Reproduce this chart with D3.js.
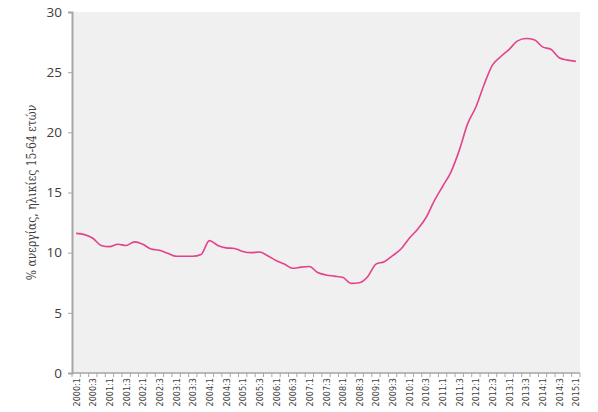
<!DOCTYPE html>
<html>
<head>
<meta charset="utf-8">
<script src="https://cdn.jsdelivr.net/npm/d3@7"></script>
<style>
  body { margin: 0; background: #fff; }
  .ytick text { font-family: "Open Sans", "DejaVu Sans", sans-serif; font-size: 13.5px; fill: #404040; }
  .xtick text { font-family: "DejaVu Sans Condensed", "DejaVu Sans", sans-serif; font-size: 9px; fill: #404040; }
  .ytitle { font-family: "DejaVu Serif Condensed", "DejaVu Serif", serif; font-size: 12px; fill: #404040; }
</style>
</head>
<body>
<svg id="chart" width="598" height="412"></svg>
<script>

// quarters 2000:1 .. 2015:1
const years = d3.range(2000, 2016)
const quarters = []
years.forEach(y => { [1, 2, 3, 4].forEach(q => { if (y < 2015 || q == 1) quarters.push(y + ':' + q) }) })

// unemployment rate, ages 15-64
const unemployment = [
	11.6, 11.5, 11.2, 10.6, 10.5, 10.7, 10.6, 10.9, 10.7, 10.3,
	10.2, 9.95, 9.7, 9.7, 9.7, 9.85, 11.0, 10.6, 10.4, 10.35,
	10.1, 10.0, 10.05, 9.75, 9.35, 9.05, 8.7, 8.8, 8.85, 8.35,
	8.15, 8.05, 7.95, 7.45, 7.5, 8.0, 9.05, 9.25, 9.75, 10.3,
	11.2, 11.95, 12.9, 14.3, 15.5, 16.7, 18.5, 20.7, 22.1, 24.0,
	25.6, 26.3, 26.9, 27.6, 27.8, 27.7, 27.1, 26.9, 26.2, 26.0,
	25.9
]

const yTicks = [0, 5, 10, 15, 20, 25, 30]
const yTitle = '% ανεργίας, ηλικίες 15-64 ετών'

const svg = d3.select('#chart')
const plotLeft = 72, plotRight = 580, plotTop = 12, plotBottom = 373

const x = d3.scaleBand().domain(quarters).range([plotLeft, plotRight])
const y = d3.scaleLinear().domain([0, 30]).range([plotBottom, plotTop])

// plot background
svg.append('rect')
	.attr('x', plotLeft).attr('y', plotTop)
	.attr('width', plotRight - plotLeft).attr('height', plotBottom - plotTop)
	.attr('fill', '#f0f0f0')

// y axis
let yAxis = svg.append('g')
	.attr('class', 'ytick')
	.attr('transform', `translate(${plotLeft},0)`)
	.call(d3.axisLeft(y).tickValues(yTicks).tickSize(4).tickPadding(6).tickFormat(d3.format('d')))
yAxis.select('.domain').attr('stroke', '#a6a6a6').attr('stroke-width', 2)
yAxis.selectAll('.tick line').attr('stroke', '#a6a6a6')

// x axis: ticks on every category boundary, labels every second quarter
let xAxis = svg.append('g')
	.attr('class', 'xtick')
	.attr('transform', `translate(0,${plotBottom})`)

xAxis.append('line')
	.attr('x1', plotLeft).attr('x2', plotRight)
	.attr('stroke', '#a6a6a6').attr('stroke-width', 1.5)

xAxis.selectAll('line.tk')
	.data(quarters.concat(['end']))
	.enter()
	.append('line')
	.attr('class', 'tk')
	.attr('x1', (d, i) => plotLeft + i * x.step())
	.attr('x2', (d, i) => plotLeft + i * x.step())
	.attr('y1', 0).attr('y2', 4)
	.attr('stroke', '#a6a6a6')

xAxis.selectAll('text')
	.data(quarters.filter((d, i) => i % 2 == 0))
	.enter()
	.append('text')
	.attr('transform', d => `translate(${x(d) + x.bandwidth() / 2 + 3.5},5) rotate(-90)`)
	.attr('text-anchor', 'end')
	.text(d => d)

// line
const line = d3.line()
	.x((d, i) => x(quarters[i]) + x.bandwidth() / 2)
	.y(d => y(d))
	.curve(d3.curveMonotoneX)

svg.append('path')
	.datum(unemployment)
	.attr('d', line)
	.attr('fill', 'none')
	.attr('stroke', '#e4428c')
	.attr('stroke-width', 1.6)

// y title
svg.append('text')
	.attr('class', 'ytitle')
	.attr('transform', `translate(36,${(plotTop + plotBottom) / 2}) rotate(-90)`)
	.attr('text-anchor', 'middle')
	.text(yTitle)

</script>
</body>
</html>
